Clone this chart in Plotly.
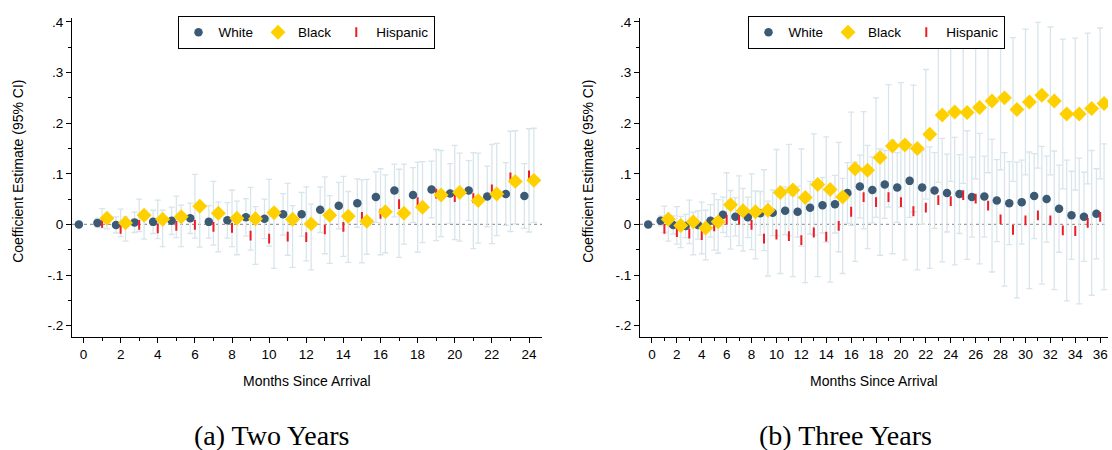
import plotly.graph_objects as go
import numpy as np

# ---------------- data: panel (a) two years ----------------
months_a = list(range(0, 25))
white_a = [0, 0.003, -0.001, 0.004, 0.005, 0.007, 0.012, 0.005, 0.008, 0.014, 0.011, 0.020, 0.020,
           0.029, 0.037, 0.042, 0.054, 0.067, 0.058, 0.069, 0.061, 0.067, 0.055, 0.060, 0.056]
white_a_ci = [0, 0.009, 0.016, 0.020, 0.023, 0.027, 0.030, 0.032, 0.035, 0.037, 0.039, 0.041, 0.043,
              0.045, 0.046, 0.048, 0.050, 0.052, 0.054, 0.056, 0.059, 0.059, 0.060, 0.062, 0.064]
black_a = [None, 0.012, 0.003, 0.018, 0.010, 0.015, 0.036, 0.022, 0.012, 0.011, 0.023, 0.010, 0.001,
           0.018, 0.016, 0.006, 0.025, 0.022, 0.034, 0.058, 0.063, 0.047, 0.060, 0.085, 0.087]
black_a_ci = [None, 0.019, 0.027, 0.032, 0.038, 0.041, 0.063, 0.063, 0.056, 0.062, 0.066, 0.071, 0.073,
              0.076, 0.079, 0.082, 0.085, 0.087, 0.089, 0.090, 0.093, 0.095, 0.098, 0.099, 0.102]
hisp_a = [None, 0.003, -0.009, -0.001, -0.008, -0.003, -0.001, -0.005, -0.007, -0.022, -0.028, -0.024, -0.025,
          -0.010, -0.005, 0.015, 0.021, 0.040, 0.044, 0.061, 0.054, 0.052, 0.069, 0.093, 0.097]
hisp_a_ci = [None, 0.012, 0.024, 0.028, 0.036, 0.041, 0.044, 0.049, 0.053, 0.057, 0.059, 0.061, 0.065,
             0.067, 0.070, 0.074, 0.077, 0.079, 0.080, 0.085, 0.087, 0.089, 0.091, 0.092, 0.093]

# ---------------- data: panel (b) three years ----------------
months_b = list(range(0, 37))
white_b = [0, 0.007, -0.001, -0.003, -0.001, 0.007, 0.019, 0.015, 0.014, 0.022, 0.023, 0.027, 0.025,
           0.033, 0.038, 0.040, 0.062, 0.075, 0.068, 0.079, 0.073, 0.086, 0.073, 0.067, 0.062,
           0.060, 0.054, 0.055, 0.047, 0.042, 0.044, 0.056, 0.050, 0.031, 0.018, 0.015, 0.021]
white_b_ci = [0, 0.010, 0.018, 0.023, 0.028, 0.032, 0.035, 0.038, 0.040, 0.043, 0.045, 0.047, 0.050,
              0.052, 0.055, 0.057, 0.060, 0.062, 0.065, 0.067, 0.069, 0.072, 0.073, 0.075, 0.077,
              0.078, 0.079, 0.080, 0.081, 0.082, 0.083, 0.084, 0.085, 0.086, 0.087, 0.088, 0.089]
black_b = [None, 0.010, -0.002, 0.005, -0.007, 0.005, 0.039, 0.027, 0.025, 0.028, 0.063, 0.068, 0.053,
           0.079, 0.069, 0.054, 0.110, 0.107, 0.132, 0.155, 0.157, 0.150, 0.178, 0.216, 0.222,
           0.221, 0.231, 0.244, 0.250, 0.227, 0.242, 0.255, 0.244, 0.218, 0.218, 0.229, 0.239]
black_b_ci = [None, 0.026, 0.037, 0.043, 0.051, 0.056, 0.063, 0.069, 0.075, 0.080, 0.085, 0.090, 0.096,
              0.100, 0.104, 0.108, 0.112, 0.116, 0.118, 0.121, 0.123, 0.125, 0.128, 0.133, 0.137,
              0.140, 0.141, 0.142, 0.142, 0.142, 0.144, 0.144, 0.146, 0.148, 0.150, 0.149, 0.149]
hisp_b = [None, -0.009, -0.015, -0.018, -0.021, -0.004, 0.009, 0.009, -0.001, -0.028, -0.020, -0.023, -0.031,
          -0.016, -0.024, -0.003, 0.025, 0.054, 0.044, 0.054, 0.044, 0.026, 0.033, 0.048, 0.046,
          0.058, 0.051, 0.037, 0.010, -0.011, 0.008, 0.018, 0.008, -0.012, -0.013, 0.003, 0.015]
hisp_b_ci = [None, 0.024, 0.031, 0.042, 0.049, 0.053, 0.058, 0.062, 0.067, 0.074, 0.077, 0.080, 0.084,
             0.087, 0.090, 0.094, 0.098, 0.102, 0.105, 0.112, 0.114, 0.116, 0.120, 0.122, 0.126,
             0.127, 0.129, 0.131, 0.132, 0.134, 0.135, 0.136, 0.137, 0.139, 0.144, 0.143, 0.144]

y_tickvals = [-0.2, -0.1, 0, 0.1, 0.2, 0.3, 0.4]
y_ticktext = ['-.2', '-.1', '0', '.1', '.2', '.3', '.4']

# ---------------- styles ----------------
C_WHITE = '#3c5a74'
C_BLACK = '#ffd000'
C_HISP = '#ee1c25'
C_CI = '#d8e5eb'
FONT = 'Liberation Sans, Arial, sans-serif'
W, H = 1112, 450

fig = go.Figure()


def add_panel(months, series, xa, ya, legend, dodge):
    m = np.array(months, dtype=float)
    offsets = [-dodge, 0.0, dodge * 1.05]
    # CIs first (behind markers)
    for (vals, ci), off in zip(series, offsets):
        fig.add_trace(go.Scatter(
            x=m + off, y=vals, mode='markers',
            marker=dict(size=1, color='rgba(0,0,0,0)'),
            error_y=dict(type='data', array=ci, symmetric=True, color=C_CI, thickness=1.3, width=3),
            xaxis=xa, yaxis=ya, showlegend=False, hoverinfo='skip'))
    (wv, _), (bv, _), (hv, _) = series
    fig.add_trace(go.Scatter(
        x=m + offsets[0], y=wv, mode='markers', name='White',
        marker=dict(symbol='circle', size=8.5, color=C_WHITE, line=dict(width=0)),
        xaxis=xa, yaxis=ya, legend=legend, legendrank=1))
    fig.add_trace(go.Scatter(
        x=m + offsets[1], y=hv, mode='markers', name='Hispanic',
        marker=dict(symbol='line-ns', size=7, color=C_HISP, line=dict(width=2, color=C_HISP)),
        xaxis=xa, yaxis=ya, legend=legend, legendrank=3))
    fig.add_trace(go.Scatter(
        x=m + offsets[2], y=bv, mode='markers', name='Black',
        marker=dict(symbol='diamond', size=11.5, color=C_BLACK, line=dict(width=0)),
        xaxis=xa, yaxis=ya, legend=legend, legendrank=2))


add_panel(months_a, [(white_a, white_a_ci), (black_a, black_a_ci), (hisp_a, hisp_a_ci)],
          'x', 'y', 'legend', 0.25)
add_panel(months_b, [(white_b, white_b_ci), (black_b, black_b_ci), (hisp_b, hisp_b_ci)],
          'x2', 'y2', 'legend2', 0.3)

ydom = [1 - 336 / H, 1 - 15 / H]
common_x = dict(showline=True, linecolor='black', linewidth=1, ticks='outside', ticklen=5,
                tickcolor='black', showgrid=False, zeroline=False,
                tickfont=dict(family=FONT, size=13.5, color='black'),
                minor=dict(ticks='outside', ticklen=3, dtick=1, tick0=0, tickcolor='black', showgrid=False))
common_y = dict(showline=True, linecolor='black', linewidth=1, ticks='outside', ticklen=5,
                tickcolor='black', showgrid=False, zeroline=False, range=[-0.222, 0.408],
                tickmode='array', tickvals=y_tickvals, ticktext=y_ticktext, domain=ydom,
                tickfont=dict(family=FONT, size=13.5, color='black'),
                minor=dict(ticks='outside', ticklen=3, dtick=0.05, tick0=0, tickcolor='black', showgrid=False))

legend_common = dict(orientation='h', y=1 - 13 / H, yanchor='top',
                     bordercolor='black', borderwidth=1, bgcolor='white',
                     font=dict(family=FONT, size=13.5, color='black'), itemwidth=30,
                     traceorder='normal')

fig.update_layout(
    width=W, height=H, margin=dict(l=0, r=0, t=0, b=0),
    paper_bgcolor='white', plot_bgcolor='white',
    font=dict(family=FONT, color='black'),
    xaxis=dict(domain=[72 / W, 542 / W], range=[-0.62, 24.7], tickmode='array',
               tickvals=list(range(0, 25, 2)), anchor='y', **common_x),
    yaxis=dict(anchor='x', **common_y),
    xaxis2=dict(domain=[640 / W, 1108 / W], range=[-0.96, 36.63], tickmode='array',
                tickvals=list(range(0, 37, 2)), anchor='y2', **common_x),
    yaxis2=dict(anchor='x2', **common_y),
    legend=dict(x=306 / W, xanchor='center', **legend_common),
    legend2=dict(x=876 / W, xanchor='center', **legend_common),
)

for xr, yr in [('x', 'y'), ('x2', 'y2')]:
    fig.add_shape(type='line', xref=f'{xr} domain', yref=yr, x0=0, x1=1, y0=0, y1=0,
                  line=dict(color='#9a9a9a', width=1.2, dash='dot'), layer='below')

for xpos in [307, 874]:
    fig.add_annotation(xref='paper', yref='paper', x=xpos / W, y=1 - 381 / H,
                       text='Months Since Arrival', showarrow=False,
                       xanchor='center', yanchor='middle',
                       font=dict(family=FONT, size=14, color='black'))
for xpos in [18, 588]:
    fig.add_annotation(xref='paper', yref='paper', x=xpos / W, y=1 - 170 / H,
                       text='Coefficient Estimate (95% CI)', textangle=-90, showarrow=False,
                       xanchor='center', yanchor='middle',
                       font=dict(family=FONT, size=14, color='black'))
for txt, xpos in [('(a) Two Years', 271), ('(b) Three Years', 845)]:
    fig.add_annotation(xref='paper', yref='paper', x=xpos / W, y=1 - 435 / H, text=txt,
                       showarrow=False, xanchor='center', yanchor='middle',
                       font=dict(family='Liberation Serif, Times New Roman, serif', size=28, color='black'))

fig.write_html('out.html')
